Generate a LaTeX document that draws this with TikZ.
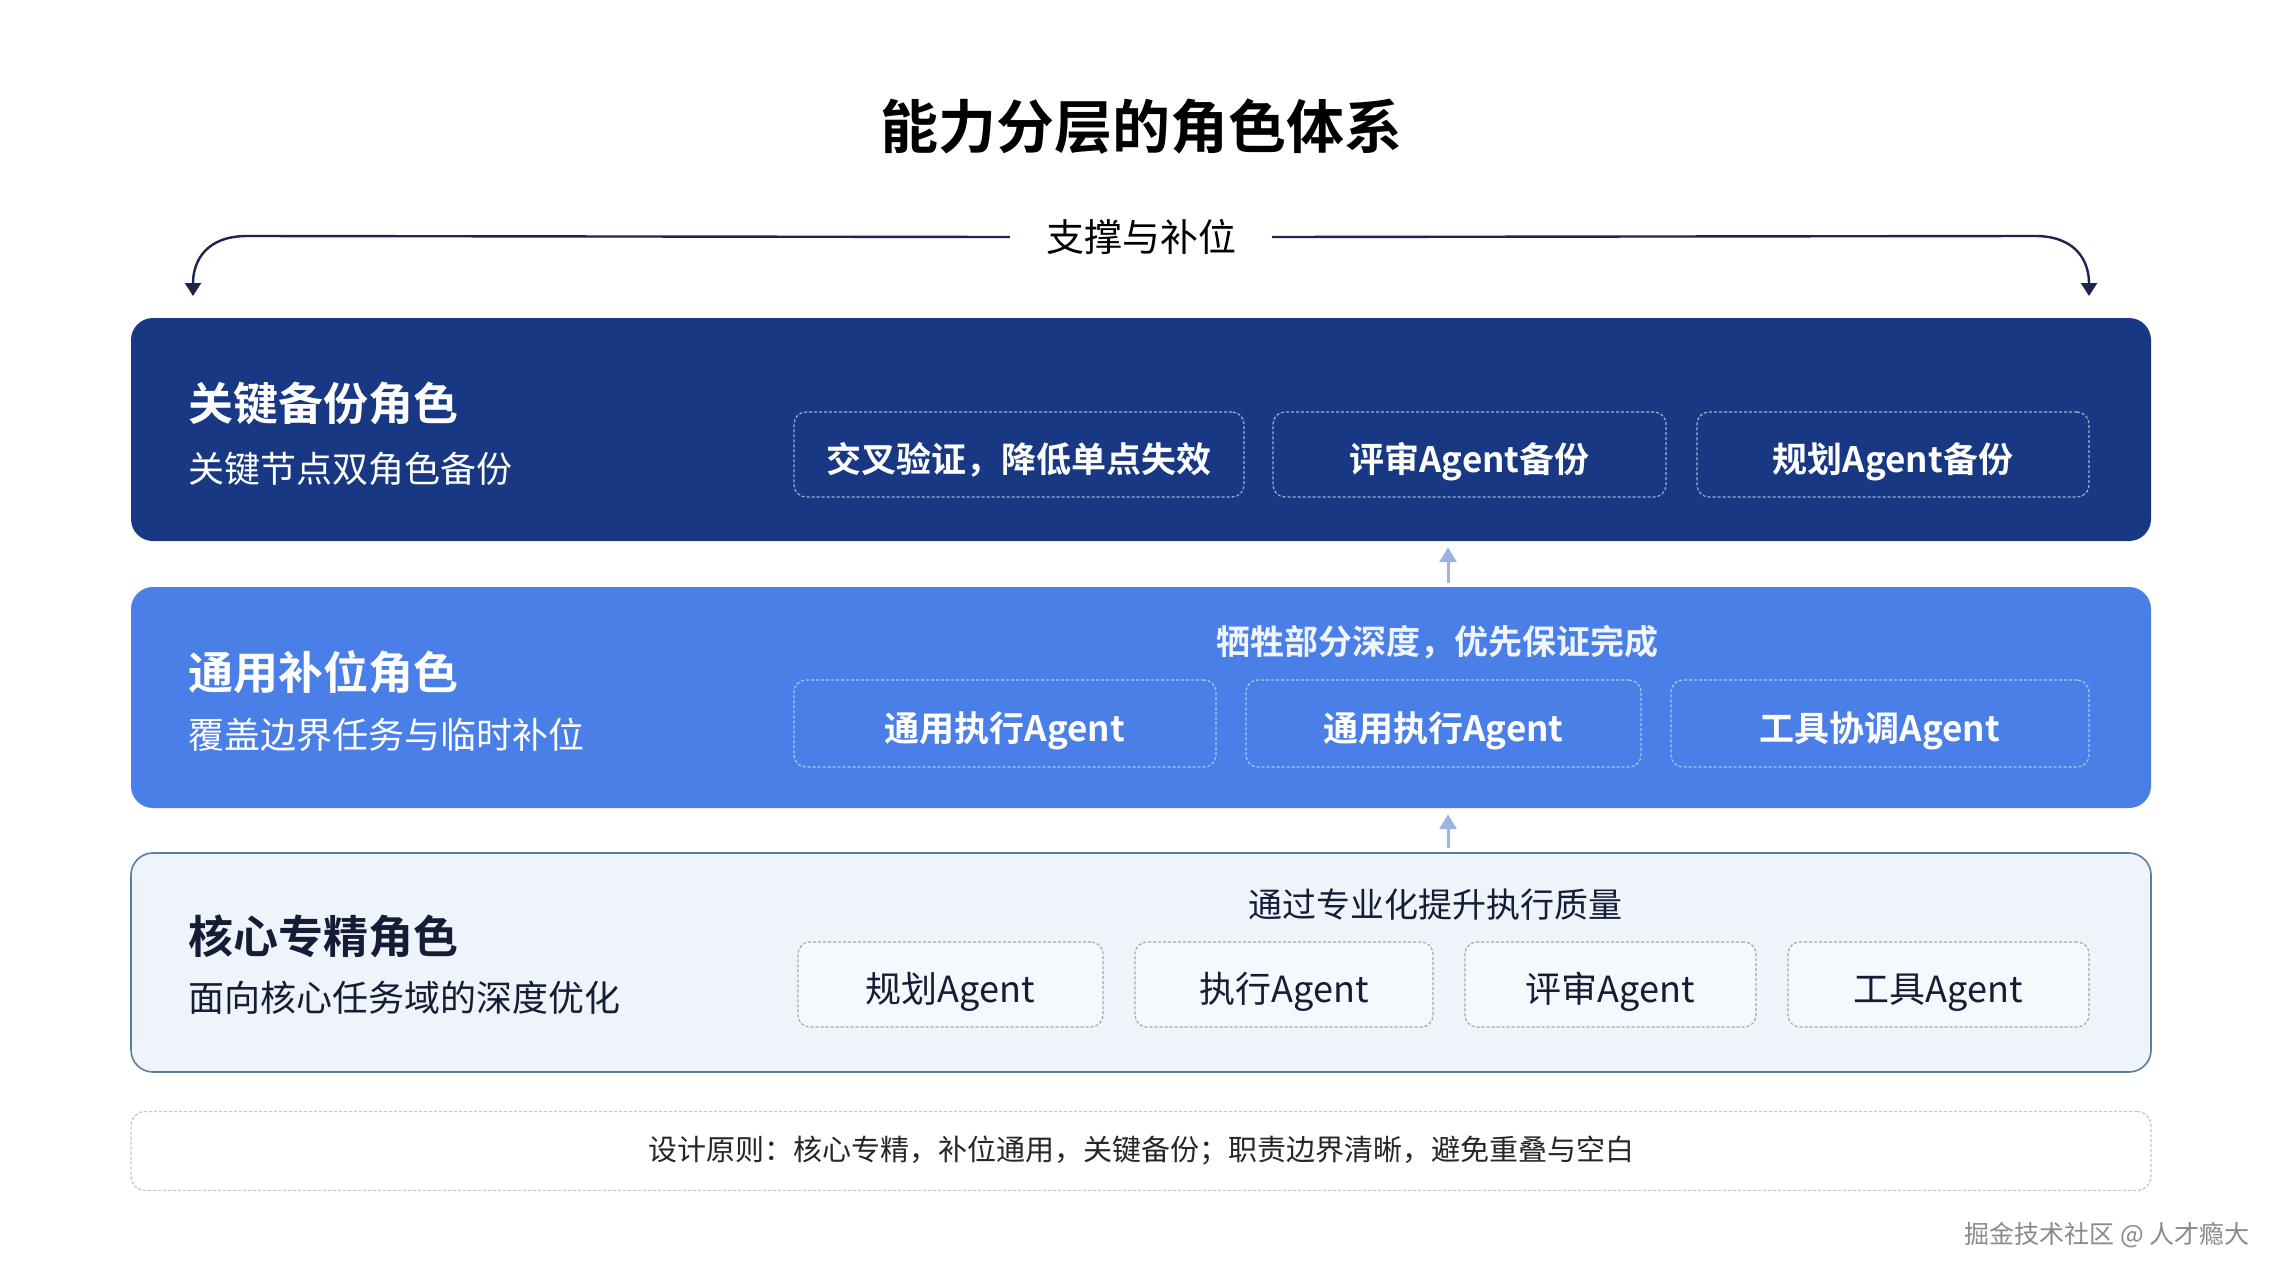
\documentclass[tikz,border=0pt]{standalone}
\usepackage{fontspec}
\setmainfont{Noto Sans CJK SC}[BoldFont={Noto Sans CJK SC Bold}]
\usetikzlibrary{arrows.meta}

\definecolor{keynavy}{HTML}{183884}
\definecolor{fillblue}{HTML}{4A7FE8}
\definecolor{corefill}{HTML}{EEF4FA}
\definecolor{coreline}{HTML}{5A7E9E}
\definecolor{coretext}{HTML}{141C36}
\definecolor{bracketnavy}{HTML}{1C2550}
\definecolor{linkblue}{HTML}{9DB3E0}
\definecolor{notegray}{HTML}{C4C8D0}
\definecolor{marktext}{HTML}{8A8A8A}

\newcommand{\fs}[1]{\fontsize{#1pt}{#1pt}\selectfont}

\begin{document}
\begin{tikzpicture}[x=1pt, y=-1pt,
		layer/.style={rounded corners=22pt, minimum width=2020pt, inner sep=0pt},
		role/.style={rounded corners=12pt, dash pattern=on 3pt off 2pt, line width=1.2pt, inner sep=0pt, minimum height=85pt, text height=46pt, text depth=10pt},
		head/.style={anchor=west, inner sep=0pt, font=\fs{45}\bfseries},
		sub/.style={anchor=west, inner sep=0pt, font=\fs{36}},
		bracket/.style={line width=2.4pt, draw=bracketnavy, -{Triangle[width=16pt, length=13pt]}},
		link/.style={line width=3pt, draw=linkblue, -{Triangle[width=17pt, length=15pt]}}]
	\useasboundingbox[fill=white] (0,0) rectangle (2282,1280);

	% title and support bracket
	\node[font=\fs{58}\bfseries] (title) at (1141,127) {能力分层的角色体系};
	\node[font=\fs{38}, inner xsep=36pt, inner ysep=0pt] (support) at (1141,237) {支撑与补位};
	\coordinate (lbend) at (247,236);
	\coordinate (ltip) at (193,296);
	\coordinate (rbend) at (2035,236);
	\coordinate (rtip) at (2089,296);
	\draw[bracket] (support.west) -- (lbend) .. controls +(-40,0) and +(0,-36) .. (ltip);
	\draw[bracket] (support.east) -- (rbend) .. controls +(40,0) and +(0,-36) .. (rtip);

	% layers
	\node[layer, fill=keynavy, minimum height=223pt] (key) at (1141,429.5) {};
	\node[layer, fill=fillblue, minimum height=221pt] (general) at (1141,697.5) {};
	\node[layer, fill=corefill, draw=coreline, line width=1.6pt, minimum height=219pt] (core) at (1141,962.5) {};

	% key backup roles
	\node[head, text=white] (keyhead) at (188,403) {关键备份角色};
	\node[sub, text=white] (keysub) at (188,469) {关键节点双角色备份};
	\node[role, draw=white!60!keynavy, minimum width=450pt, text=white, font=\fs{35}\bfseries] (cross) at (1019,454.5) {交叉验证，降低单点失效};
	\node[role, draw=white!60!keynavy, minimum width=393pt, text=white, font=\fs{35}\bfseries] (reviewbak) at (1469.5,454.5) {评审Agent备份};
	\node[role, draw=white!60!keynavy, minimum width=392pt, text=white, font=\fs{35}\bfseries] (planbak) at (1893,454.5) {规划Agent备份};

	% general fill-in roles
	\node[head, text=white] (genhead) at (188,672) {通用补位角色};
	\node[sub, text=white] (gensub) at (188,735) {覆盖边界任务与临时补位};
	\node[inner sep=0pt, text=white!92!fillblue, font=\fs{34}\bfseries] (gennote) at (1437,642) {牺牲部分深度，优先保证完成};
	\node[role, draw=white!55!fillblue, minimum width=422pt, minimum height=87pt, text=white, font=\fs{35}\bfseries] (exec1) at (1005,723.5) {通用执行Agent};
	\node[role, draw=white!55!fillblue, minimum width=395pt, minimum height=87pt, text=white, font=\fs{35}\bfseries] (exec2) at (1443.5,723.5) {通用执行Agent};
	\node[role, draw=white!55!fillblue, minimum width=418pt, minimum height=87pt, text=white, font=\fs{35}\bfseries] (toolco) at (1880,723.5) {工具协调Agent};

	% core specialist roles
	\node[head, text=coretext] (corehead) at (188,936) {核心专精角色};
	\node[sub, text=coretext] (coresub) at (188,998) {面向核心任务域的深度优化};
	\node[inner sep=0pt, text=coretext, font=\fs{34}] (corenote) at (1435,905) {通过专业化提升执行质量};
	\node[role, draw=gray!70, fill=white!40!corefill, minimum width=305pt, text=coretext, font=\fs{36}] (plan) at (950.5,984.5) {规划Agent};
	\node[role, draw=gray!70, fill=white!40!corefill, minimum width=298pt, text=coretext, font=\fs{36}] (exec) at (1284,984.5) {执行Agent};
	\node[role, draw=gray!70, fill=white!40!corefill, minimum width=291pt, text=coretext, font=\fs{36}] (review) at (1610.5,984.5) {评审Agent};
	\node[role, draw=gray!70, fill=white!40!corefill, minimum width=301pt, text=coretext, font=\fs{36}] (tool) at (1938.5,984.5) {工具Agent};

	% upward links
	\coordinate (linkx) at (1448,0);
	\draw[link, shorten <=4pt, shorten >=6pt] (general.north -| linkx) -- (key.south -| linkx);
	\draw[link, shorten <=4pt, shorten >=6pt] (core.north -| linkx) -- (general.south -| linkx);

	% design principle
	\node[rounded corners=14pt, draw=notegray, dash pattern=on 3pt off 2pt, line width=1.4pt, minimum width=2020pt, minimum height=79pt, font=\fs{29}, text=black!85] (principle) at (1141,1151) {设计原则：核心专精，补位通用，关键备份；职责边界清晰，避免重叠与空白};
	\node[anchor=east, inner sep=0pt, text=marktext, font=\fs{25}] (mark) at (2250,1235) {掘金技术社区 @ 人才瘾大};
\end{tikzpicture}
\end{document}
